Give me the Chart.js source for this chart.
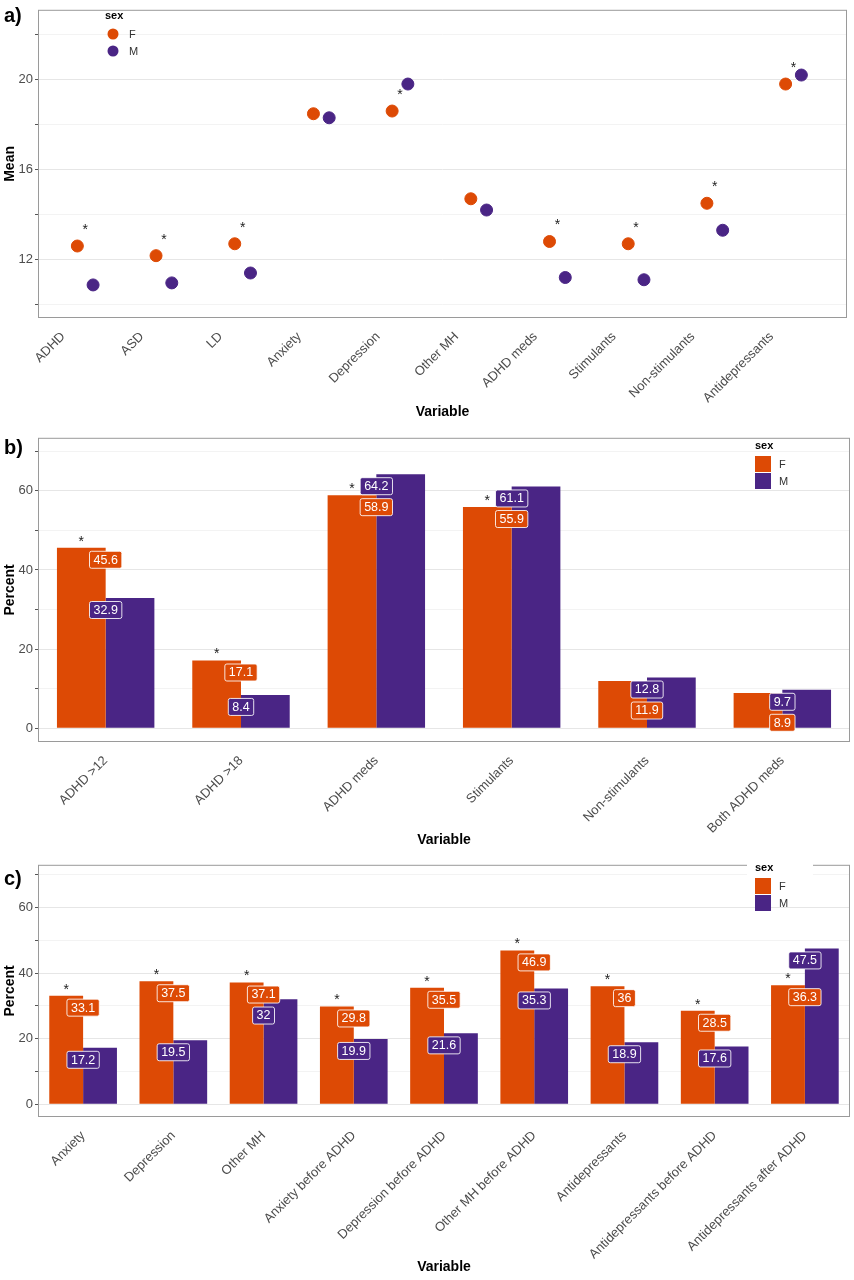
<!DOCTYPE html>
<html lang="en">
<head>
<meta charset="UTF-8">
<title>Sex differences</title>
<script src="https://cdn.jsdelivr.net/npm/chart.js"></script>
<style>
  body { margin: 0; background: #fff; font-family: "Liberation Sans", Arial, sans-serif; }
  .panel { position: absolute; left: 0; width: 854px; height: 425px; }
</style>
</head>
<body>
<div class="panel" style="top:0"><canvas id="chartA"></canvas></div>
<div class="panel" style="top:428px"><canvas id="chartB"></canvas></div>
<div class="panel" style="top:855px"><canvas id="chartC"></canvas></div>
<script>
// ---- data ----
const catsA = ['ADHD', 'ASD', 'LD', 'Anxiety', 'Depression', 'Other MH', 'ADHD meds', 'Stimulants', 'Non-stimulants', 'Antidepressants'];
const meanF = [12.6, 12.17, 12.7, 18.48, 18.6, 14.7, 12.8, 12.7, 14.5, 19.8];
const meanM = [10.87, 10.96, 11.4, 18.3, 19.8, 14.2, 11.2, 11.1, 13.3, 20.2];
const sigA = [true, true, true, false, true, false, true, true, true, true];
const ticksA = [10, 12, 14, 16, 18, 20, 22];

const catsB = ['ADHD >12', 'ADHD >18', 'ADHD meds', 'Stimulants', 'Non-stimulants', 'Both ADHD meds'];
const pctBF = [45.6, 17.1, 58.9, 55.9, 11.9, 8.9];
const pctBM = [32.9, 8.4, 64.2, 61.1, 12.8, 9.7];
const sigB = [true, true, true, true, false, false];

const catsC = ['Anxiety', 'Depression', 'Other MH', 'Anxiety before ADHD', 'Depression before ADHD', 'Other MH before ADHD', 'Antidepressants', 'Antidepressants before ADHD', 'Antidepressants after ADHD'];
const pctCF = [33.1, 37.5, 37.1, 29.8, 35.5, 46.9, 36, 28.5, 36.3];
const pctCM = [17.2, 19.5, 32, 19.9, 21.6, 35.3, 18.9, 17.6, 47.5];
const sigC = [true, true, true, true, true, true, true, true, true];
const ticksPct = [0, 10, 20, 30, 40, 50, 60, 70];

const colF = '#DD4A05';
const colM = '#4A2585';
const FONT = '"Liberation Sans", Arial, sans-serif';

// border box, panel tag, legend, stars, value labels
const decor = {
  id: 'decor',
  afterDraw(chart, args, o) {
    const c = chart.ctx, a = chart.chartArea;
    c.save();
    c.strokeStyle = '#9a9a9a'; c.lineWidth = 1;
    c.strokeRect(a.left + 0.5, a.top + 0.5, a.width - 1, a.height - 1);

    // stars
    c.fillStyle = '#222'; c.font = '14px ' + FONT; c.textAlign = 'center'; c.textBaseline = 'middle';
    const m0 = chart.getDatasetMeta(0);
    o.sig.forEach((s, i) => {
      if (!s) return;
      const el = m0.data[i];
      if (o.points) c.fillText('*', chart.scales.x.getPixelForValue(i), el.y - 16);
      else c.fillText('*', el.x, el.y - 6);
    });

    // value labels
    if (!o.points) {
      const m1 = chart.getDatasetMeta(1);
      c.font = '12.5px ' + FONT;
      m0.data.forEach((f, i) => {
        const m = m1.data[i];
        const x = f.x + f.width / 2;
        let yf = f.y + 12, ym = m.y + 12;
        if (Math.abs(yf - ym) < 20) { if (yf > ym) yf = ym + 21; else ym = yf + 21; }
        [[yf, colF, chart.data.datasets[0].data[i]], [ym, colM, chart.data.datasets[1].data[i]]].forEach(([y, col, v]) => {
          const t = String(v), w = c.measureText(t).width + 8, h = 17;
          c.fillStyle = col; c.strokeStyle = 'rgba(255,255,255,0.85)'; c.lineWidth = 1;
          c.beginPath(); c.roundRect(x - w / 2, y - h / 2, w, h, 2); c.fill(); c.stroke();
          c.fillStyle = '#fff'; c.fillText(t, x, y + 0.5);
        });
      });
    }

    // panel tag
    c.fillStyle = '#000'; c.font = 'bold 20px ' + FONT; c.textAlign = 'left';
    c.fillText(o.tag, 4, o.tagY);

    // legend
    const L = o.legend;
    if (L.bg) { c.fillStyle = '#fff'; c.fillRect(L.x - 8, L.y - 10, 66, 48); }
    c.fillStyle = '#000'; c.font = 'bold 11px ' + FONT;
    c.fillText('sex', L.x, L.y);
    c.font = '11px ' + FONT; c.fillStyle = '#333';
    [['F', colF], ['M', colM]].forEach(([k, col], j) => {
      const y = L.y + 18 + j * 17;
      c.fillStyle = col;
      if (o.points) { c.beginPath(); c.arc(L.x + 8, y, 5.5, 0, Math.PI * 2); c.fill(); }
      else c.fillRect(L.x, y - 8, 16, 16);
      c.fillStyle = '#333'; c.fillText(k, L.x + 24, y + 1);
    });
    c.restore();
  }
};

function yScale(min, max, ticks, show, title, width) {
  return {
    min: min, max: max,
    afterBuildTicks(s) { s.ticks = ticks.map(v => ({ value: v })); },
    afterFit(s) { s.width = width; },
    border: { display: false },
    grid: { color: ctx => (show(ctx.tick.value) ? '#e6e6e6' : '#f3f3f3'), drawTicks: true, tickColor: '#555', tickLength: 3 },
    ticks: { color: '#4d4d4d', font: { size: 13, family: FONT }, padding: 2,
             callback: v => (show(v) ? v : '') },
    title: { display: true, text: title, color: '#000', font: { size: 14, weight: 'bold', family: FONT }, padding: 2 }
  };
}

function xTitle() {
  return { display: true, text: 'Variable', color: '#000', font: { size: 14, weight: 'bold', family: FONT } };
}

// ---- a) ----
new Chart(document.getElementById('chartA'), {
  type: 'scatter',
  data: {
    datasets: [
      { label: 'F', data: meanF.map((v, i) => ({ x: i - 0.1, y: v })), backgroundColor: colF, borderColor: colF, pointRadius: 6 },
      { label: 'M', data: meanM.map((v, i) => ({ x: i + 0.1, y: v })), backgroundColor: colM, borderColor: colM, pointRadius: 6 }
    ]
  },
  options: {
    responsive: true, maintainAspectRatio: false, animation: false,
    layout: { padding: { top: 3, right: 4 } },
    plugins: { legend: { display: false }, tooltip: { enabled: false },
      decor: { points: true, sig: sigA, tag: 'a)', tagY: 16, legend: { x: 105, y: 16 } } },
    scales: {
      x: { type: 'linear', min: -0.6, max: 9.68,
        afterBuildTicks(s) { s.ticks = catsA.map((_, i) => ({ value: i })); },
        afterFit(s) { s.height = 107; },
        border: { display: false },
        grid: { display: false, drawTicks: true },
        ticks: { autoSkip: false, maxRotation: 45, minRotation: 45, color: '#4d4d4d', font: { size: 13, family: FONT },
                 labelOffset: -22, callback: v => catsA[v] },
        title: xTitle() },
      y: yScale(9.4, 23.1, ticksA, v => v % 4 === 0, 'Mean', 38)
    }
  },
  plugins: [decor]
});

function barChart(id, cats, f, m, sig, tag, tagY, legend, pad, xh, ymin, ymax, catPct) {
  new Chart(document.getElementById(id), {
    type: 'bar',
    data: {
      labels: cats,
      datasets: [
        { label: 'F', data: f, backgroundColor: colF, categoryPercentage: catPct, barPercentage: 1 },
        { label: 'M', data: m, backgroundColor: colM, categoryPercentage: catPct, barPercentage: 1 }
      ]
    },
    options: {
      responsive: true, maintainAspectRatio: false, animation: false,
      layout: { padding: { top: pad, right: 4 } },
      plugins: { legend: { display: false }, tooltip: { enabled: false },
        decor: { points: false, sig: sig, tag: tag, tagY: tagY, legend: legend } },
      scales: {
        x: { afterFit(s) { s.height = xh; },
          border: { display: false },
          grid: { display: false },
          ticks: { autoSkip: false, maxRotation: 45, minRotation: 45, color: '#4d4d4d', font: { size: 13, family: FONT } },
          title: xTitle() },
        y: yScale(ymin, ymax, ticksPct, v => v % 20 === 0, 'Percent', 38)
      }
    },
    plugins: [decor]
  });
}

barChart('chartB', catsB, pctBF, pctBM, sigB, 'b)', 20, { x: 755, y: 18 }, 4, 111, -3.5, 73.4, 0.72);
barChart('chartC', catsC, pctCF, pctCM, sigC, 'c)', 24, { x: 755, y: 13, bg: true }, 7, 163, -3.9, 73, 0.75);
</script>
</body>
</html>
